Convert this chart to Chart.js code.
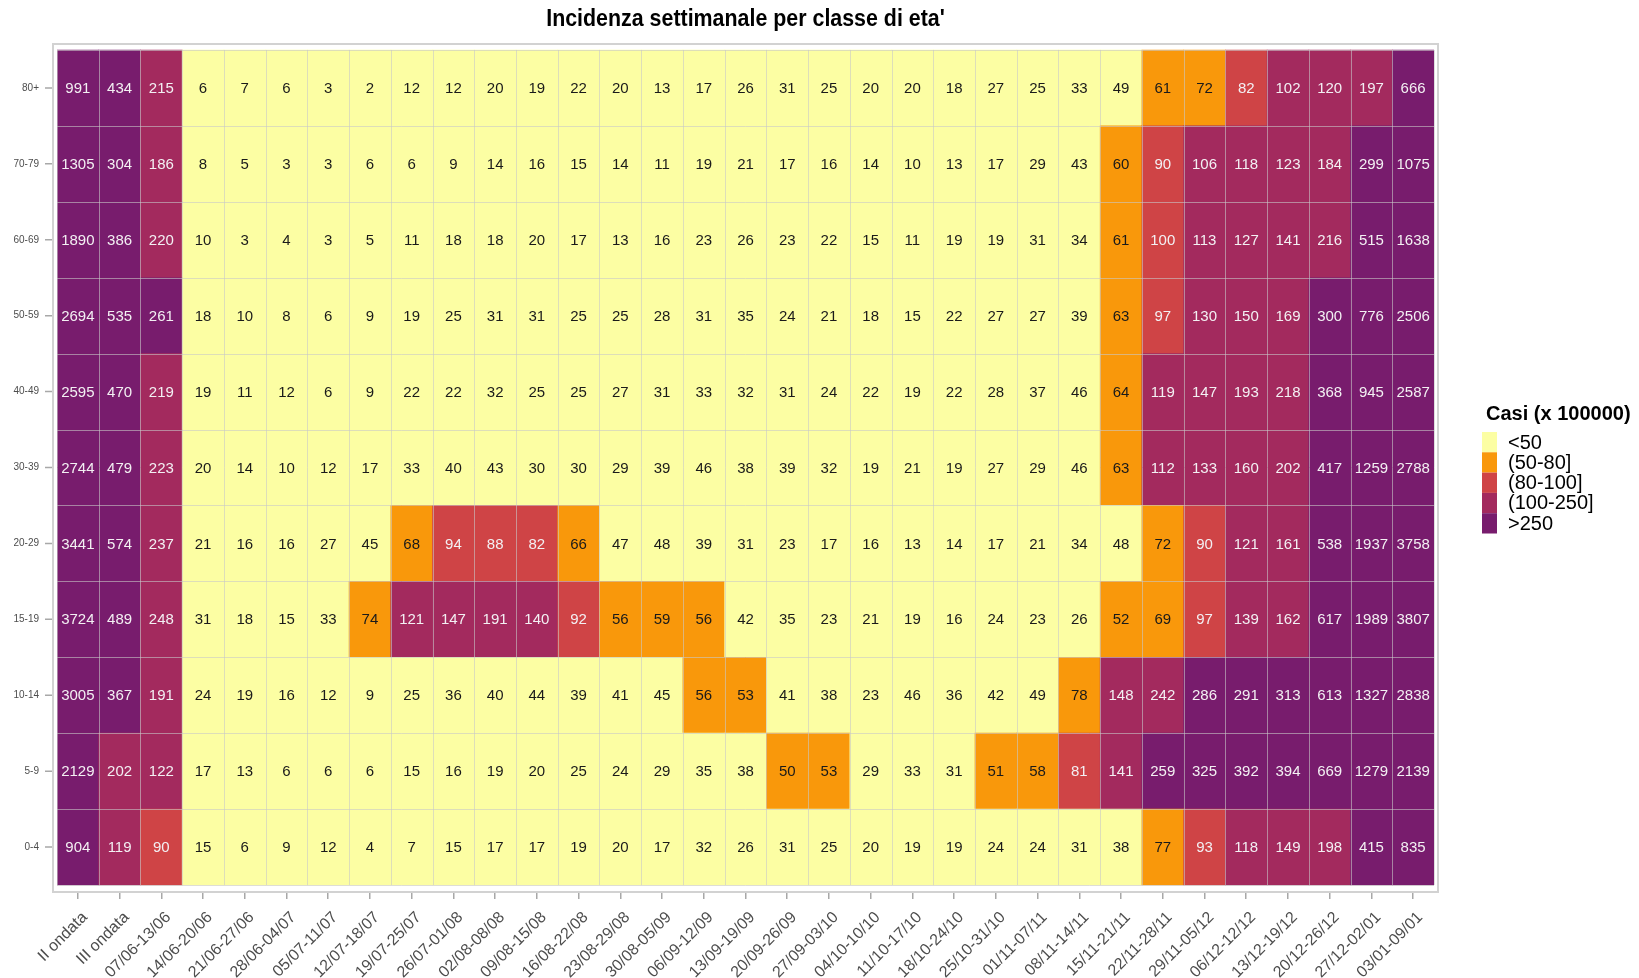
<!DOCTYPE html>
<html><head><meta charset="utf-8">
<script src="https://cdn.jsdelivr.net/npm/chart.js@4/dist/chart.umd.min.js"></script>
<style>html,body{margin:0;padding:0;background:#fff}#wrap{width:1639px;height:978px;position:relative}</style>
</head><body><div id="wrap"><canvas id="c" width="1639" height="978"></canvas></div>
<script>
const titleText = "Incidenza settimanale per classe di eta'";
const legendTitle = 'Casi (x 100000)';
const weeks = ['II ondata','III ondata','07/06-13/06','14/06-20/06','21/06-27/06','28/06-04/07','05/07-11/07','12/07-18/07','19/07-25/07','26/07-01/08','02/08-08/08','09/08-15/08','16/08-22/08','23/08-29/08','30/08-05/09','06/09-12/09','13/09-19/09','20/09-26/09','27/09-03/10','04/10-10/10','11/10-17/10','18/10-24/10','25/10-31/10','01/11-07/11','08/11-14/11','15/11-21/11','22/11-28/11','29/11-05/12','06/12-12/12','13/12-19/12','20/12-26/12','27/12-02/01','03/01-09/01'];
const ages = ['0-4','5-9','10-14','15-19','20-29','30-39','40-49','50-59','60-69','70-79','80+'];

const age_0_4   = [904,119,90,15,6,9,12,4,7,15,17,17,19,20,17,32,26,31,25,20,19,19,24,24,31,38,77,93,118,149,198,415,835];
const age_5_9   = [2129,202,122,17,13,6,6,6,15,16,19,20,25,24,29,35,38,50,53,29,33,31,51,58,81,141,259,325,392,394,669,1279,2139];
const age_10_14 = [3005,367,191,24,19,16,12,9,25,36,40,44,39,41,45,56,53,41,38,23,46,36,42,49,78,148,242,286,291,313,613,1327,2838];
const age_15_19 = [3724,489,248,31,18,15,33,74,121,147,191,140,92,56,59,56,42,35,23,21,19,16,24,23,26,52,69,97,139,162,617,1989,3807];
const age_20_29 = [3441,574,237,21,16,16,27,45,68,94,88,82,66,47,48,39,31,23,17,16,13,14,17,21,34,48,72,90,121,161,538,1937,3758];
const age_30_39 = [2744,479,223,20,14,10,12,17,33,40,43,30,30,29,39,46,38,39,32,19,21,19,27,29,46,63,112,133,160,202,417,1259,2788];
const age_40_49 = [2595,470,219,19,11,12,6,9,22,22,32,25,25,27,31,33,32,31,24,22,19,22,28,37,46,64,119,147,193,218,368,945,2587];
const age_50_59 = [2694,535,261,18,10,8,6,9,19,25,31,31,25,25,28,31,35,24,21,18,15,22,27,27,39,63,97,130,150,169,300,776,2506];
const age_60_69 = [1890,386,220,10,3,4,3,5,11,18,18,20,17,13,16,23,26,23,22,15,11,19,19,31,34,61,100,113,127,141,216,515,1638];
const age_70_79 = [1305,304,186,8,5,3,3,6,6,9,14,16,15,14,11,19,21,17,16,14,10,13,17,29,43,60,90,106,118,123,184,299,1075];
const age_80    = [991,434,215,6,7,6,3,2,12,12,20,19,22,20,13,17,26,31,25,20,20,18,27,25,33,49,61,72,82,102,120,197,666];

const rows = [age_0_4, age_5_9, age_10_14, age_15_19, age_20_29, age_30_39, age_40_49, age_50_59, age_60_69, age_70_79, age_80];

const classLabels = ['<50','(50-80]','(80-100]','(100-250]','>250'];
const classColors = ['#FCFEA3','#F9980B','#CF4446','#A32A5E','#781C6D'];
const classBreaks = [50, 80, 100, 250];
function cls(v){
  if (v < classBreaks[0]) return 0;
  if (v <= classBreaks[1]) return 1;
  if (v <= classBreaks[2]) return 2;
  if (v <= classBreaks[3]) return 3;
  return 4;
}

Chart.defaults.font.family = '"Liberation Sans", Arial, sans-serif';

const decor = {
  id: 'decor',
  afterDatasetsDraw(chart) {
    const ctx = chart.ctx, xs = chart.scales.x, ys = chart.scales.y, ca = chart.chartArea;
    ctx.save();
    // tile outlines
    ctx.strokeStyle = 'rgba(200,200,200,0.6)';
    ctx.lineWidth = 1;
    const yTop = ys.getPixelForValue(ages.length), yBot = ys.getPixelForValue(0);
    const half = (xs.getPixelForValue(1) - xs.getPixelForValue(0)) / 2;
    ctx.beginPath();
    for (let i = 0; i <= weeks.length; i++) {
      const x = Math.round(xs.getPixelForValue(Math.min(i, weeks.length - 1)) + (i === weeks.length ? half : -half)) + 0.5;
      ctx.moveTo(x, yTop); ctx.lineTo(x, yBot);
    }
    const xL = xs.getPixelForValue(0) - half, xR = xs.getPixelForValue(weeks.length - 1) + half;
    for (let r = 0; r <= ages.length; r++) {
      const y = Math.round(ys.getPixelForValue(r)) + 0.5;
      ctx.moveTo(xL, y); ctx.lineTo(xR, y);
    }
    ctx.stroke();
    // values
    ctx.font = '15px "Liberation Sans", Arial, sans-serif';
    ctx.textAlign = 'center';
    ctx.textBaseline = 'middle';
    chart.data.datasets.forEach((ds, r) => {
      const meta = chart.getDatasetMeta(r);
      meta.data.forEach((el, i) => {
        const p = el.getProps(['x', 'y', 'base'], true);
        const v = rows[r][i];
        ctx.fillStyle = cls(v) >= 2 ? '#F3F0F3' : '#1A1A1A';
        ctx.fillText(String(v), p.x, (p.y + p.base) / 2 + 1);
      });
    });
    // panel border
    ctx.strokeStyle = '#D2D2D2';
    ctx.lineWidth = 2;
    ctx.strokeRect(ca.left - 4, ca.top + 1, ca.right - ca.left + 8, ca.bottom - ca.top - 1);
    // y tick marks
    ctx.strokeStyle = '#A8A8A8';
    ctx.lineWidth = 1.5;
    ctx.beginPath();
    ages.forEach((a, r) => {
      const y = ys.getPixelForValue(r + 0.5);
      ctx.moveTo(ca.left - 12, y); ctx.lineTo(ca.left - 5, y);
    });
    ctx.stroke();
    // title (condensed bold)
    ctx.fillStyle = '#000';
    ctx.font = 'bold 23px "Liberation Sans", Arial, sans-serif';
    ctx.textAlign = 'center';
    ctx.textBaseline = 'alphabetic';
    ctx.save();
    ctx.translate((ca.left + ca.right) / 2, 26);
    ctx.scale(0.93, 1);
    ctx.fillText(titleText, 0, 0);
    ctx.restore();
    // legend
    ctx.textAlign = 'left';
    ctx.font = 'bold 20px "Liberation Sans", Arial, sans-serif';
    ctx.fillText(legendTitle, 1486, 420);
    ctx.font = '20px "Liberation Sans", Arial, sans-serif';
    ctx.textBaseline = 'middle';
    classLabels.forEach((lab, k) => {
      const top = 432 + k * 20.3;
      ctx.fillStyle = classColors[k];
      ctx.fillRect(1482, top, 15, 20.3);
      ctx.fillStyle = '#000';
      ctx.fillText(lab, 1508, top + 11);
    });
    ctx.restore();
  }
};

new Chart(document.getElementById('c'), {
  type: 'bar',
  data: {
    labels: weeks,
    datasets: ages.map((a, r) => ({
      label: a,
      data: rows[r].map(() => [r, r + 1]),
      backgroundColor: rows[r].map(v => classColors[cls(v)]),
      borderWidth: 0,
      barPercentage: 1,
      categoryPercentage: 1,
      grouped: false
    }))
  },
  options: {
    responsive: false,
    animation: false,
    layout: { padding: { left: 0, top: 43, right: 205, bottom: 0 } },
    plugins: { legend: { display: false }, title: { display: false }, tooltip: { enabled: false } },
    scales: {
      x: {
        type: 'category',
        offset: true,
        border: { display: false },
        grid: { display: true, drawOnChartArea: false, drawTicks: true, tickLength: 7, color: '#A8A8A8', lineWidth: 1.5, offset: false },
        ticks: { autoSkip: false, minRotation: 45, maxRotation: 45, color: '#4D4D4D', font: { size: 16 }, padding: 9, labelOffset: 7 },
        afterFit: s => { s.height = 86; }
      },
      y: {
        type: 'linear',
        min: -0.0922,
        max: 11.0922,
        border: { display: false },
        grid: { display: false, drawTicks: false },
        afterBuildTicks: s => { s.ticks = ages.map((a, i) => ({ value: i + 0.5 })); },
        ticks: { autoSkip: false, color: '#4D4D4D', font: { size: 10 }, padding: 18, callback: (v, i) => ages[i] },
        afterFit: s => { s.width = 57; }
      }
    }
  },
  plugins: [decor]
});
</script>
</body></html>
